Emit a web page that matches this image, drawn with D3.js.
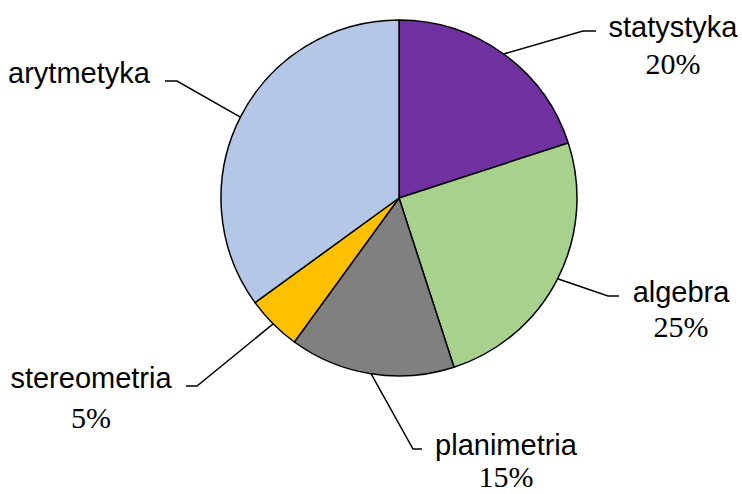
<!DOCTYPE html>
<html lang="pl">
    <head>
        <meta charset="utf-8">
        <title>Dziedziny</title>
        <script src="https://d3js.org/d3.v7.min.js"></script>
        <style>
            body { margin: 0; background: white; }
            .name { font-family: "Liberation Sans", Arial, sans-serif; font-size: 29px; fill: black; }
            .pct { font-family: "Liberation Serif", serif; font-size: 30px; fill: black; }
            .leader { fill: none; stroke: black; stroke-width: 1.5; }
        </style>
    </head>
    <body>
        <div id="chart"></div>
        <script type="text/javascript">
            // data
            var categories = ["statystyka", "algebra", "planimetria", "stereometria", "arytmetyka"];
            var values = [20, 25, 15, 5, 35];
            var pctLabels = ["20%", "25%", "15%", "5%", ""];
            var colors = ["#7030A0", "#A9D18E", "#808080", "#FFC000", "#B4C7E7"];

            // layout of the labels: elbow of leader, end of short tick, text centre and baselines
            var labelLayout = [
                {elbow: [583, 31], tick: [596, 31], tx: 673, nameY: 37, pctY: 74},
                {elbow: [608, 296], tick: [619, 296], tx: 681, nameY: 302, pctY: 337},
                {elbow: [413, 449], tick: [422, 449], tx: 506, nameY: 455, pctY: 487},
                {elbow: [197, 386], tick: [186, 386], tx: 91, nameY: 388, pctY: 428},
                {elbow: [177, 81], tick: [165, 81], tx: 79, nameY: 83, pctY: 0}
            ];

            var w = 742;
            var h = 494;
            var cx = 399;
            var cy = 198;
            var radius = 178;

            var svg = d3.select("#chart").append("svg").attr("width", w).attr("height", h);

            var pie = d3.pie().sort(null).value(function(d) { return d; });
            var arc = d3.arc().innerRadius(0).outerRadius(radius);
            var arcs = pie(values);

            var g = svg.append("g").attr("transform", "translate(" + cx + "," + cy + ")");
            g.selectAll("path").data(arcs).enter().append("path")
                .attr("d", arc)
                .attr("fill", function(d, i) { return colors[i]; })
                .attr("stroke", "black")
                .attr("stroke-width", 1.5)
                .attr("stroke-linejoin", "round");

            // leader lines from the middle of each slice edge
            svg.selectAll("polyline").data(arcs).enter().append("polyline")
                .attr("class", "leader")
                .attr("points", function(d, i) {
                    var a = (d.startAngle + d.endAngle) / 2;
                    var p0 = [cx + radius * Math.sin(a), cy - radius * Math.cos(a)];
                    var L = labelLayout[i];
                    return [p0, L.elbow, L.tick].map(function(p) { return p.join(","); }).join(" ");
                });

            svg.selectAll("text.name").data(categories).enter().append("text")
                .attr("class", "name")
                .attr("x", function(d, i) { return labelLayout[i].tx; })
                .attr("y", function(d, i) { return labelLayout[i].nameY; })
                .attr("text-anchor", "middle")
                .text(function(d) { return d; });

            svg.selectAll("text.pct").data(pctLabels).enter().append("text")
                .attr("class", "pct")
                .attr("x", function(d, i) { return labelLayout[i].tx; })
                .attr("y", function(d, i) { return labelLayout[i].pctY; })
                .attr("text-anchor", "middle")
                .text(function(d) { return d; });
        </script>
    </body>
</html>
